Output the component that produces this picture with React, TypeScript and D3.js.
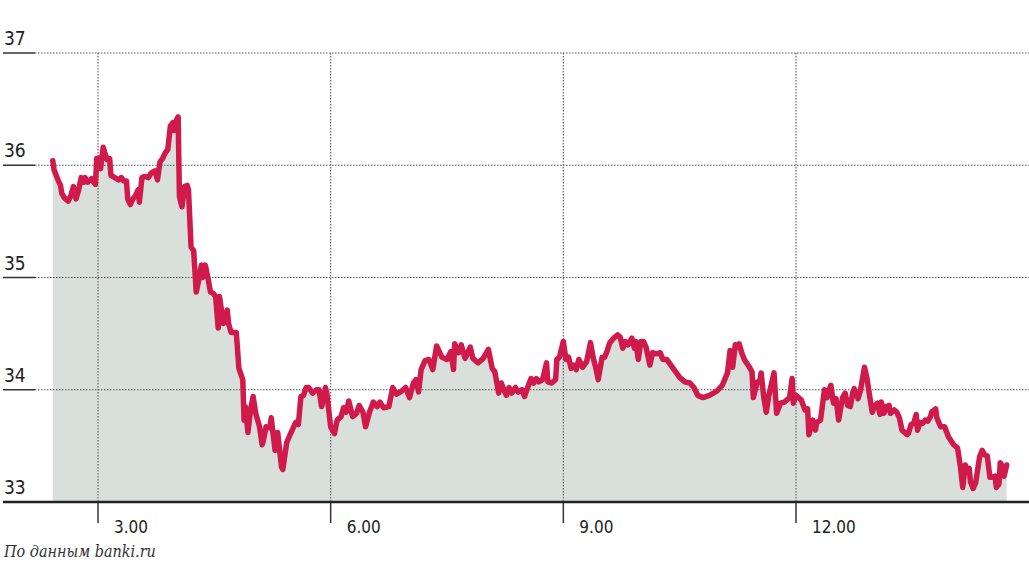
import * as d3 from 'd3';
import React, { useEffect, useRef } from 'react';

// Time of quote, minutes after midnight
const minutes = [145,146,149,151,152,154,157,159,161,163,165,167,169,170,172,175,176,178,179,181,182,184,185,187,189,190,193,196,198,200,202,203,205,207,209,211,212,214,216,219,221,224,226,228,230,232,234,236,238,239,241,242,243,245,247,249,250,252,254,256,258,260,261,263,265,267,269,271,273,274,277,280,281,283,285,287,289,292,293,294,296,298,300,302,305,307,308,310,313,314,317,319,322,323,326,329,331,333,335,337,339,341,343,346,349,351,353,356,357,360,363,365,368,370,372,374,377,380,382,385,387,390,393,396,398,401,405,408,411,414,418,421,424,426,428,430,433,436,439,442,446,450,453,455,456,459,461,464,468,470,474,478,482,485,487,490,492,494,496,498,500,503,505,508,510,513,515,517,519,521,524,527,528,531,534,535,537,540,542,544,546,548,550,552,555,558,561,563,565,567,570,572,574,576,579,582,584,586,588,590,593,595,596,598,600,602,604,607,609,612,615,617,620,625,630,634,638,641,644,648,653,659,663,667,669,671,673,675,676,678,680,684,686,687,690,692,693,695,697,699,703,705,708,711,715,717,718,720,724,727,729,730,733,735,736,739,742,744,745,747,749,751,753,756,758,760,762,764,765,768,770,771,773,775,777,779,781,783,785,786,788,790,792,793,796,798,800,802,806,807,809,811,813,814,816,818,820,822,824,825,828,829,832,835,838,842,845,847,849,851,852,854,855,857,859,862,864,866,868,870,872,874,875,877,878,880,881,883];

// Exchange rate at each time
const rates = [36.04,35.96,35.87,35.82,35.75,35.71,35.68,35.73,35.81,35.70,35.78,35.89,35.85,35.89,35.85,35.88,35.86,35.83,36.06,36.06,35.97,36.16,36.12,36.05,36.06,35.91,35.89,35.87,35.89,35.86,35.86,35.70,35.65,35.70,35.73,35.78,35.67,35.89,35.90,35.89,35.93,35.95,35.87,36.03,36.06,36.11,36.14,36.35,36.38,36.31,36.41,36.43,35.72,35.63,35.81,35.82,35.78,35.27,35.24,34.87,34.98,35.11,35.00,35.11,35.00,34.87,34.86,34.83,34.55,34.83,34.59,34.71,34.59,34.51,34.51,34.51,34.19,34.09,33.73,33.85,33.62,33.82,33.94,33.79,33.67,33.51,33.55,33.67,33.66,33.75,33.46,33.62,33.31,33.29,33.53,33.61,33.66,33.71,33.69,33.94,33.95,34.02,34.02,33.97,34.00,34.00,33.85,34.02,33.97,33.67,33.61,33.73,33.76,33.84,33.80,33.90,33.76,33.79,33.86,33.80,33.67,33.80,33.89,33.85,33.89,33.84,33.85,34.02,33.96,33.98,34.02,33.93,34.06,34.09,33.98,34.18,34.26,34.27,34.18,34.39,34.29,34.27,34.34,34.18,34.41,34.33,34.40,34.28,34.38,34.28,34.24,34.28,34.36,34.19,34.16,33.97,34.06,34.00,33.95,34.02,33.97,34.02,33.98,34.00,33.94,34.04,34.10,34.06,34.10,34.07,34.09,34.24,34.07,34.06,34.09,34.27,34.29,34.43,34.27,34.29,34.19,34.22,34.18,34.27,34.20,34.25,34.42,34.29,34.20,34.09,34.29,34.29,34.35,34.42,34.46,34.49,34.47,34.37,34.43,34.40,34.46,34.37,34.43,34.27,34.43,34.43,34.38,34.22,34.33,34.32,34.33,34.27,34.27,34.19,34.11,34.07,34.06,34.02,33.95,33.93,33.95,33.99,34.04,34.15,34.35,34.20,34.40,34.38,34.41,34.33,34.27,34.20,34.16,33.93,34.07,34.07,34.15,33.94,33.80,33.95,34.15,33.79,33.88,33.89,33.93,34.10,33.88,33.95,33.91,33.82,33.83,33.60,33.73,33.64,33.71,33.73,34.00,33.93,33.98,34.04,33.88,33.92,33.73,33.93,33.97,33.86,33.85,33.98,34.01,33.92,34.00,34.07,34.20,34.10,33.94,33.80,33.86,33.88,33.78,33.89,33.79,33.85,33.86,33.79,33.82,33.80,33.75,33.64,33.60,33.61,33.69,33.70,33.78,33.64,33.71,33.70,33.73,33.72,33.76,33.80,33.83,33.75,33.67,33.67,33.58,33.51,33.48,33.33,33.13,33.33,33.29,33.30,33.18,33.12,33.17,33.40,33.46,33.42,33.41,33.22,33.22,33.23,33.13,33.16,33.35,33.31,33.23,33.33];

const yTicks = [33, 34, 35, 36, 37];
const xTicks = [180, 360, 540, 720];
const xTickLabels = ['3.00', '6.00', '9.00', '12.00'];
const source = 'По данным banki.ru';

const labelFont = "'DejaVu Sans Condensed', 'DejaVu Sans', sans-serif";

const App: React.FC = () => {
    const svgRef = useRef<SVGSVGElement | null>(null);

    useEffect(() => {
        const width = 1029;
        const height = 570;

        d3.select(svgRef.current).selectAll('*').remove();

        const svg = d3
            .select(svgRef.current)
            .attr('width', width)
            .attr('height', height);

        const x = d3.scaleLinear().domain([180, 720]).range([98, 796]);
        const y = d3.scaleLinear().domain([33, 37]).range([502, 53]);

        const data = minutes.map((m, i) => ({ t: m, v: rates[i] }));

        // Area under the line
        const area = d3
            .area<{ t: number; v: number }>()
            .x(d => x(d.t))
            .y0(y(33))
            .y1(d => y(d.v));

        svg.append('path')
            .datum(data)
            .attr('d', area)
            .attr('fill', '#d9e0db');

        // Horizontal grid: short solid stub, then dotted
        yTicks.filter(t => t > 33).forEach(t => {
            svg.append('line')
                .attr('x1', 3).attr('x2', 35)
                .attr('y1', y(t)).attr('y2', y(t))
                .attr('stroke', '#333').attr('stroke-width', 1.5);
            svg.append('line')
                .attr('x1', 35).attr('x2', width)
                .attr('y1', y(t)).attr('y2', y(t))
                .attr('stroke', '#555').attr('stroke-width', 1.2)
                .attr('stroke-dasharray', '1.5,1.5');
        });

        // Vertical grid
        xTicks.forEach(t => {
            svg.append('line')
                .attr('x1', x(t)).attr('x2', x(t))
                .attr('y1', y(37)).attr('y2', y(33))
                .attr('stroke', '#666').attr('stroke-width', 1.2)
                .attr('stroke-dasharray', '1.5,1.5');
        });

        // Line
        const line = d3
            .line<{ t: number; v: number }>()
            .x(d => x(d.t))
            .y(d => y(d.v));

        svg.append('path')
            .datum(data)
            .attr('d', line)
            .attr('fill', 'none')
            .attr('stroke', '#d01a4b')
            .attr('stroke-width', 5.5)
            .attr('stroke-linejoin', 'round')
            .attr('stroke-linecap', 'round');

        // Baseline
        svg.append('line')
            .attr('x1', 3).attr('x2', width)
            .attr('y1', y(33)).attr('y2', y(33))
            .attr('stroke', '#222').attr('stroke-width', 2.5);

        // Y labels
        yTicks.forEach(t => {
            svg.append('text')
                .attr('x', 4)
                .attr('y', y(t) - 8)
                .attr('font-family', labelFont)
                .attr('font-stretch', 'condensed')
                .attr('font-size', 19)
                .attr('fill', '#222')
                .text(String(t));
        });

        // X ticks and labels
        xTicks.forEach((t, i) => {
            svg.append('line')
                .attr('x1', x(t)).attr('x2', x(t))
                .attr('y1', y(33)).attr('y2', y(33) + 21)
                .attr('stroke', '#333').attr('stroke-width', 1.5);
            svg.append('text')
                .attr('x', x(t) + 16)
                .attr('y', 533)
                .attr('font-family', labelFont)
                .attr('font-stretch', 'condensed')
                .attr('font-size', 17)
                .attr('fill', '#222')
                .text(xTickLabels[i]);
        });

        // Source note
        svg.append('text')
            .attr('x', 4)
            .attr('y', 557)
            .attr('font-family', "'DejaVu Serif', 'Liberation Serif', serif")
            .attr('font-style', 'italic')
            .attr('font-stretch', 'condensed')
            .attr('font-size', 16)
            .attr('fill', '#333')
            .text(source);
    }, []);

    return <svg ref={svgRef} style={{ position: 'absolute', left: 0, top: 0 }}></svg>;
};

export default App;
